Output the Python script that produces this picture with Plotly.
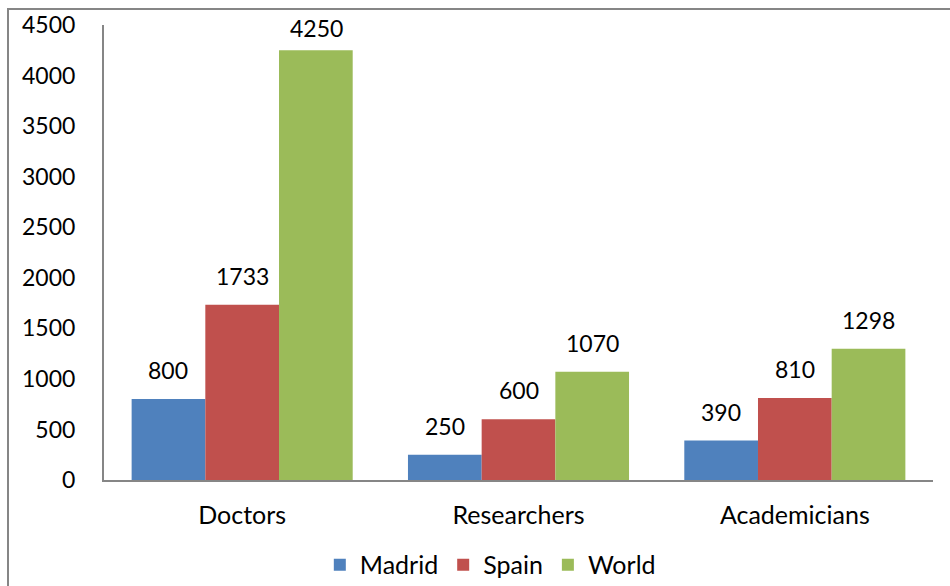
import plotly.graph_objects as go

categories = ["Doctors", "Researchers", "Academicians"]
madrid = [800, 250, 390]
spain = [1733, 600, 810]
world = [4250, 1070, 1298]
series_names = ["Madrid", "Spain", "World"]
colors = ["#4F81BD", "#C0504D", "#9BBB59"]
y_max = 4500

FONT = "Lato"
FS = 23
PLOT_H = 586 - 25 - 106
fig = go.Figure()
for name, vals, col in zip(series_names, [madrid, spain, world], colors):
    fig.add_trace(go.Bar(name=name, x=categories, y=vals, marker=dict(color=col, line=dict(width=0))))

bar_px = 74
annotations = []
for i, vals in enumerate([madrid, spain, world]):
    for c, v in zip(categories, vals):
        room = (y_max - v) / y_max * PLOT_H
        shift = min(13, room - 19)
        annotations.append(dict(x=c, y=v, xref="x", yref="y", text=str(v), showarrow=False,
                                xshift=(i - 1) * bar_px, yshift=shift, yanchor="bottom",
                                font=dict(family=FONT, size=FS, color="#000")))

fig.update_layout(
    width=950, height=586,
    margin=dict(l=104, r=17, t=25, b=106),
    paper_bgcolor="white", plot_bgcolor="white",
    barmode="group", bargap=0.2, bargroupgap=0,
    font=dict(family=FONT, size=FS, color="#000"),
    annotations=annotations,
    showlegend=True,
    legend=dict(orientation="h", x=0.466, xanchor="center", yref="container", y=0.036, yanchor="middle",
                font=dict(family=FONT, size=25), itemwidth=30, traceorder="normal"),
    shapes=[dict(type="rect", xref="paper", yref="paper", x0=-0.1158, y0=-0.4, x1=1.2, y1=1.0352,
                 line=dict(color="#868686", width=2), fillcolor="rgba(0,0,0,0)", layer="below")],
)
fig.update_yaxes(range=[0, y_max], dtick=500, showgrid=False, zeroline=False, automargin=False,
                 showline=True, linecolor="#868686", linewidth=2, ticks="", ticklabelstandoff=22)
fig.update_xaxes(showgrid=False, showline=True, linecolor="#868686", linewidth=2, ticks="",
                 automargin=False, ticklabelstandoff=12, tickfont=dict(size=25))
fig.write_html("out.html", config={"displayModeBar": False},
               post_script="document.body.style.margin='0';document.body.style.padding='0';")
